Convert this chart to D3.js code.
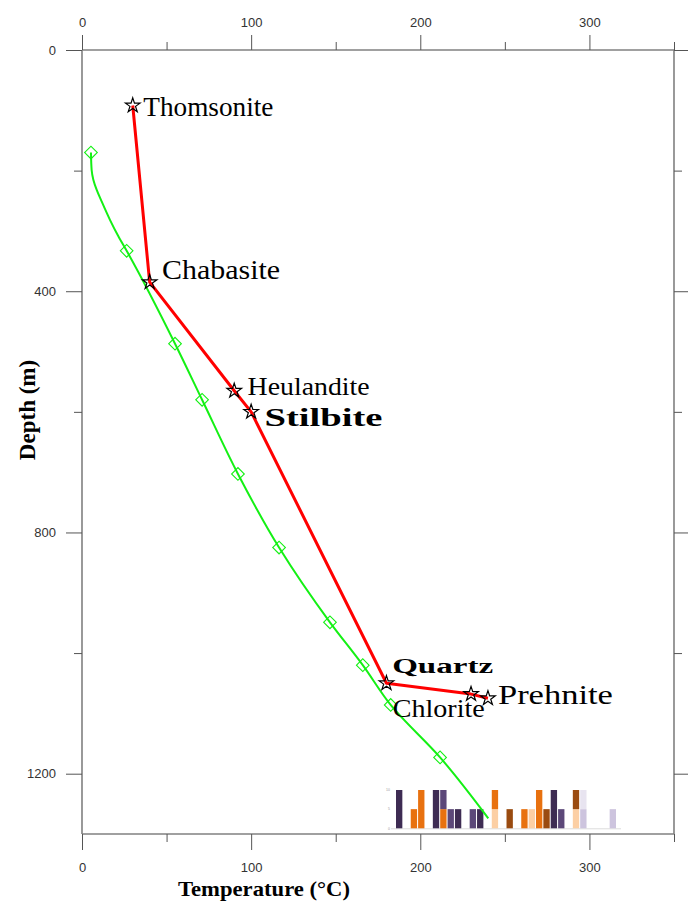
<!DOCTYPE html>
<html>
<head>
<meta charset="utf-8">
<script src="https://cdn.jsdelivr.net/npm/d3@7/dist/d3.min.js"></script>
<style>
  body { margin: 0; background: #fff; }
  svg { display: block; }
</style>
</head>
<body>
<svg id="chart" width="688" height="907"></svg>
<script>
// Measured well temperature profile (°C vs depth in m)
const profileTemp  = [5.3, 5.7, 6.7, 8.7, 11.6, 16.6, 21.5, 26.4, 55, 71, 92.2, 116.5, 146.6, 166, 182.5, 211.7, 240.2];
const profileDepth = [170, 199, 215, 232, 251, 282, 309, 333, 487, 580, 703, 825, 949, 1020, 1086, 1173, 1274];

// Logged readings shown as diamonds
const markerTemp  = [5.3, 26.4, 55, 71, 92.2, 116.5, 146.6, 166, 182.5, 211.7];
const markerDepth = [170, 333, 487, 580, 703, 825, 949, 1020, 1086, 1173];

// Alteration minerals: formation temperature and first-appearance depth
const minerals     = ["Thomsonite", "Chabasite", "Heulandite", "Stilbite", "Quartz", "Chlorite", "Prehnite"];
const mineralTemp  = [30, 40, 90, 100, 180, 230, 240];
const mineralDepth = [92, 385, 565, 600, 1050, 1068, 1075];

// Axis ticks
const tempMajor  = [0, 100, 200, 300];
const tempMinor  = [50, 150, 250, 350];
const depthMajor = [0, 400, 800, 1200];
const depthMinor = [200, 600, 1000];

// Small stacked-bar inset (30 samples, counts per class)
const insetSlots = d3.range(30);
const insetD = [0,0,0,0,0,0,0,0,0,0,0,0,0,5,0,0,0,0,5,0,0,0,0,0,5,0,0,0,0,0];
const insetF = [0,0,0,0,0,0,0,0,0,0,0,0,0,0,0,0,0,0,0,0,0,0,0,0,0,5,0,0,0,5];
const insetC = [0,0,5,10,0,0,5,0,0,0,0,0,0,5,0,0,0,5,0,10,0,0,0,0,0,0,0,0,0,0];
const insetA = [10,0,0,0,0,10,0,0,5,0,0,5,0,0,0,0,0,0,0,0,0,10,0,0,0,0,0,0,0,0];
const insetB = [0,0,0,0,0,0,5,5,0,0,5,0,0,0,0,0,0,0,0,0,0,0,5,0,0,0,0,0,0,0];
const insetE = [0,0,0,0,0,0,0,0,0,0,0,0,0,0,0,5,0,0,0,0,5,0,0,0,5,0,0,0,0,0];
const insetG = [0,0,0,0,0,0,0,0,0,0,0,0,0,0,0,0,0,0,0,0,0,0,0,0,0,5,0,0,0,0];
const insetTicks = [0, 5, 10];

// ---------- layout & styles ----------
const svg = d3.select("#chart");
const x = d3.scaleLinear().domain([0, 350]).range([82, 674]);
const y = d3.scaleLinear().domain([0, 1300]).range([50, 834]);

const tickFont = "'Liberation Sans', Arial, sans-serif";
const serif = "'Liberation Serif', 'Times New Roman', serif";
const frameColor = "#808080";
const tickColor = "#555";
const profileColor = "#14f014";

const classColor = { D: "#fccfa4", F: "#cdc4de", C: "#e8710f", A: "#3e2c53", B: "#5c4879", E: "#9a4b10", G: "#e8e4f0" };

const labelStyle = {
  Thomsonite: { dx: 10.6, dy: 10.5, size: 28, len: 130, weight: "normal", family: serif },
  Chabasite:  { dx: 12.4, dy: -3.4, size: 27, len: 118, weight: "normal", family: serif },
  Heulandite: { dx: 13.4, dy: 4,    size: 26, len: 122, weight: "normal", family: serif },
  Stilbite:   { dx: 13.3, dy: 13.7, size: 26, len: 118, weight: "bold",   family: serif },
  Quartz:     { dx: 5.7,  dy: -10.6, size: 20, len: 101, weight: "bold",  family: serif },
  Chlorite:   { dx: -78.3, dy: 22.6, size: 25, len: 92, weight: "normal", family: serif },
  Prehnite:   { dx: 10,   dy: 6,    size: 27, len: 115, weight: "normal", family: serif }
};

// ---------- inset bar chart ----------
const inset = svg.append("g").attr("class", "inset");
const ib = d3.scaleBand().domain(insetSlots).range([396, 616]).paddingInner(0.14);
const iy = d3.scaleLinear().domain([0, 10]).range([828.3, 790]);
const insetTable = insetSlots.map(i => ({
  slot: i, D: insetD[i], F: insetF[i], C: insetC[i], A: insetA[i], B: insetB[i], E: insetE[i], G: insetG[i]
}));
const stack = d3.stack().keys(["D", "F", "C", "A", "B", "E", "G"])(insetTable);
inset.append("line")
  .attr("x1", 391).attr("x2", 621)
  .attr("y1", iy(0) + 0.5).attr("y2", iy(0) + 0.5)
  .attr("stroke", "#dcdcdc").attr("stroke-width", 1);
inset.selectAll("text.itick").data(insetTicks).join("text")
  .attr("class", "itick")
  .attr("x", 390).attr("y", d => iy(d))
  .attr("dy", "0.35em")
  .attr("text-anchor", "end")
  .attr("font-family", tickFont).attr("font-size", 3.5).attr("fill", "#999")
  .text(d => d);
stack.forEach(layer => {
  inset.selectAll(null).data(layer.filter(s => s[1] > s[0])).join("rect")
    .attr("x", s => ib(s.data.slot))
    .attr("width", ib.bandwidth())
    .attr("y", s => iy(s[1]))
    .attr("height", s => iy(s[0]) - iy(s[1]))
    .attr("fill", classColor[layer.key]);
});

// ---------- frame & axes ----------
const frame = svg.append("g");
frame.append("line").attr("x1", x(0)).attr("x2", x(350)).attr("y1", y(0)).attr("y2", y(0));
frame.append("line").attr("x1", x(0)).attr("x2", x(350)).attr("y1", y(1300)).attr("y2", y(1300));
frame.append("line").attr("x1", x(0)).attr("x2", x(0)).attr("y1", y(0)).attr("y2", y(1300));
frame.append("line").attr("x1", x(350)).attr("x2", x(350)).attr("y1", y(0)).attr("y2", y(1300));
frame.selectAll("line").attr("stroke", frameColor).attr("stroke-width", 1.6);

function styleAxis(g) {
  g.select(".domain").remove();
  g.selectAll(".tick line").attr("stroke", tickColor).attr("stroke-width", 1);
  g.selectAll(".tick text").attr("font-family", tickFont).attr("font-size", 13).attr("fill", "#333");
}

svg.append("g").attr("transform", `translate(0,${y(0)})`)
  .call(d3.axisTop(x).tickValues(tempMajor).tickSize(15).tickPadding(8).tickFormat(d3.format("d")))
  .call(styleAxis);
svg.append("g").attr("transform", `translate(0,${y(0)})`)
  .call(d3.axisTop(x).tickValues(tempMinor).tickSize(8).tickFormat(""))
  .call(styleAxis);
svg.append("g").attr("transform", `translate(0,${y(1300)})`)
  .call(d3.axisBottom(x).tickValues(tempMajor).tickSize(16).tickPadding(13).tickFormat(d3.format("d")))
  .call(styleAxis);
svg.append("g").attr("transform", `translate(0,${y(1300)})`)
  .call(d3.axisBottom(x).tickValues(tempMinor).tickSize(8).tickFormat(""))
  .call(styleAxis);
svg.append("g").attr("transform", `translate(${x(0)},0)`)
  .call(d3.axisLeft(y).tickValues(depthMajor).tickSize(16).tickPadding(10).tickFormat(d3.format("d")))
  .call(styleAxis);
svg.append("g").attr("transform", `translate(${x(0)},0)`)
  .call(d3.axisLeft(y).tickValues(depthMinor).tickSize(8).tickFormat(""))
  .call(styleAxis);
svg.append("g").attr("transform", `translate(${x(350)},0)`)
  .call(d3.axisRight(y).tickValues(depthMajor).tickSize(14).tickFormat(""))
  .call(styleAxis);
svg.append("g").attr("transform", `translate(${x(350)},0)`)
  .call(d3.axisRight(y).tickValues(depthMinor).tickSize(8).tickFormat(""))
  .call(styleAxis);

// axis titles
svg.append("text")
  .attr("x", 264).attr("y", 896)
  .attr("text-anchor", "middle")
  .attr("font-family", serif).attr("font-weight", "bold").attr("font-size", 22)
  .attr("textLength", 172).attr("lengthAdjust", "spacingAndGlyphs")
  .attr("fill", "#000")
  .text("Temperature (°C)");
svg.append("text")
  .attr("transform", `translate(35,410) rotate(-90)`)
  .attr("text-anchor", "middle")
  .attr("font-family", serif).attr("font-weight", "bold").attr("font-size", 23)
  .attr("fill", "#000")
  .text("Depth (m)");

// ---------- temperature profile ----------
const profile = profileTemp.map((t, i) => [t, profileDepth[i]]);
svg.append("path")
  .datum(profile)
  .attr("fill", "none")
  .attr("stroke", profileColor)
  .attr("stroke-width", 2)
  .attr("d", d3.line().x(d => x(d[0])).y(d => y(d[1])).curve(d3.curveMonotoneY));

const markers = markerTemp.map((t, i) => [t, markerDepth[i]]);
svg.selectAll("path.diamond").data(markers).join("path")
  .attr("class", "diamond")
  .attr("transform", d => `translate(${x(d[0])},${y(d[1])}) rotate(45)`)
  .attr("d", d3.symbol(d3.symbolSquare, 80)())
  .attr("fill", "none")
  .attr("stroke", profileColor)
  .attr("stroke-width", 1.1);

// ---------- mineral sequence ----------
const mins = minerals.map((m, i) => ({ name: m, t: mineralTemp[i], d: mineralDepth[i] }));
svg.append("path")
  .datum(mins)
  .attr("fill", "none")
  .attr("stroke", "#ff0000")
  .attr("stroke-width", 3)
  .attr("stroke-linejoin", "round")
  .attr("d", d3.line().x(d => x(d.t)).y(d => y(d.d)));

svg.selectAll("path.star").data(mins).join("path")
  .attr("class", "star")
  .attr("transform", d => `translate(${x(d.t)},${y(d.d)})`)
  .attr("d", d3.symbol(d3.symbolStar, 66)())
  .attr("fill", "none")
  .attr("stroke", "#000")
  .attr("stroke-width", 1.2);

svg.selectAll("text.mineral").data(mins).join("text")
  .attr("class", "mineral")
  .attr("x", d => x(d.t) + labelStyle[d.name].dx)
  .attr("y", d => y(d.d) + labelStyle[d.name].dy)
  .attr("font-family", d => labelStyle[d.name].family)
  .attr("font-weight", d => labelStyle[d.name].weight)
  .attr("font-size", d => labelStyle[d.name].size)
  .attr("textLength", d => labelStyle[d.name].len)
  .attr("lengthAdjust", "spacingAndGlyphs")
  .attr("fill", "#000")
  .text(d => d.name);
</script>
</body>
</html>
